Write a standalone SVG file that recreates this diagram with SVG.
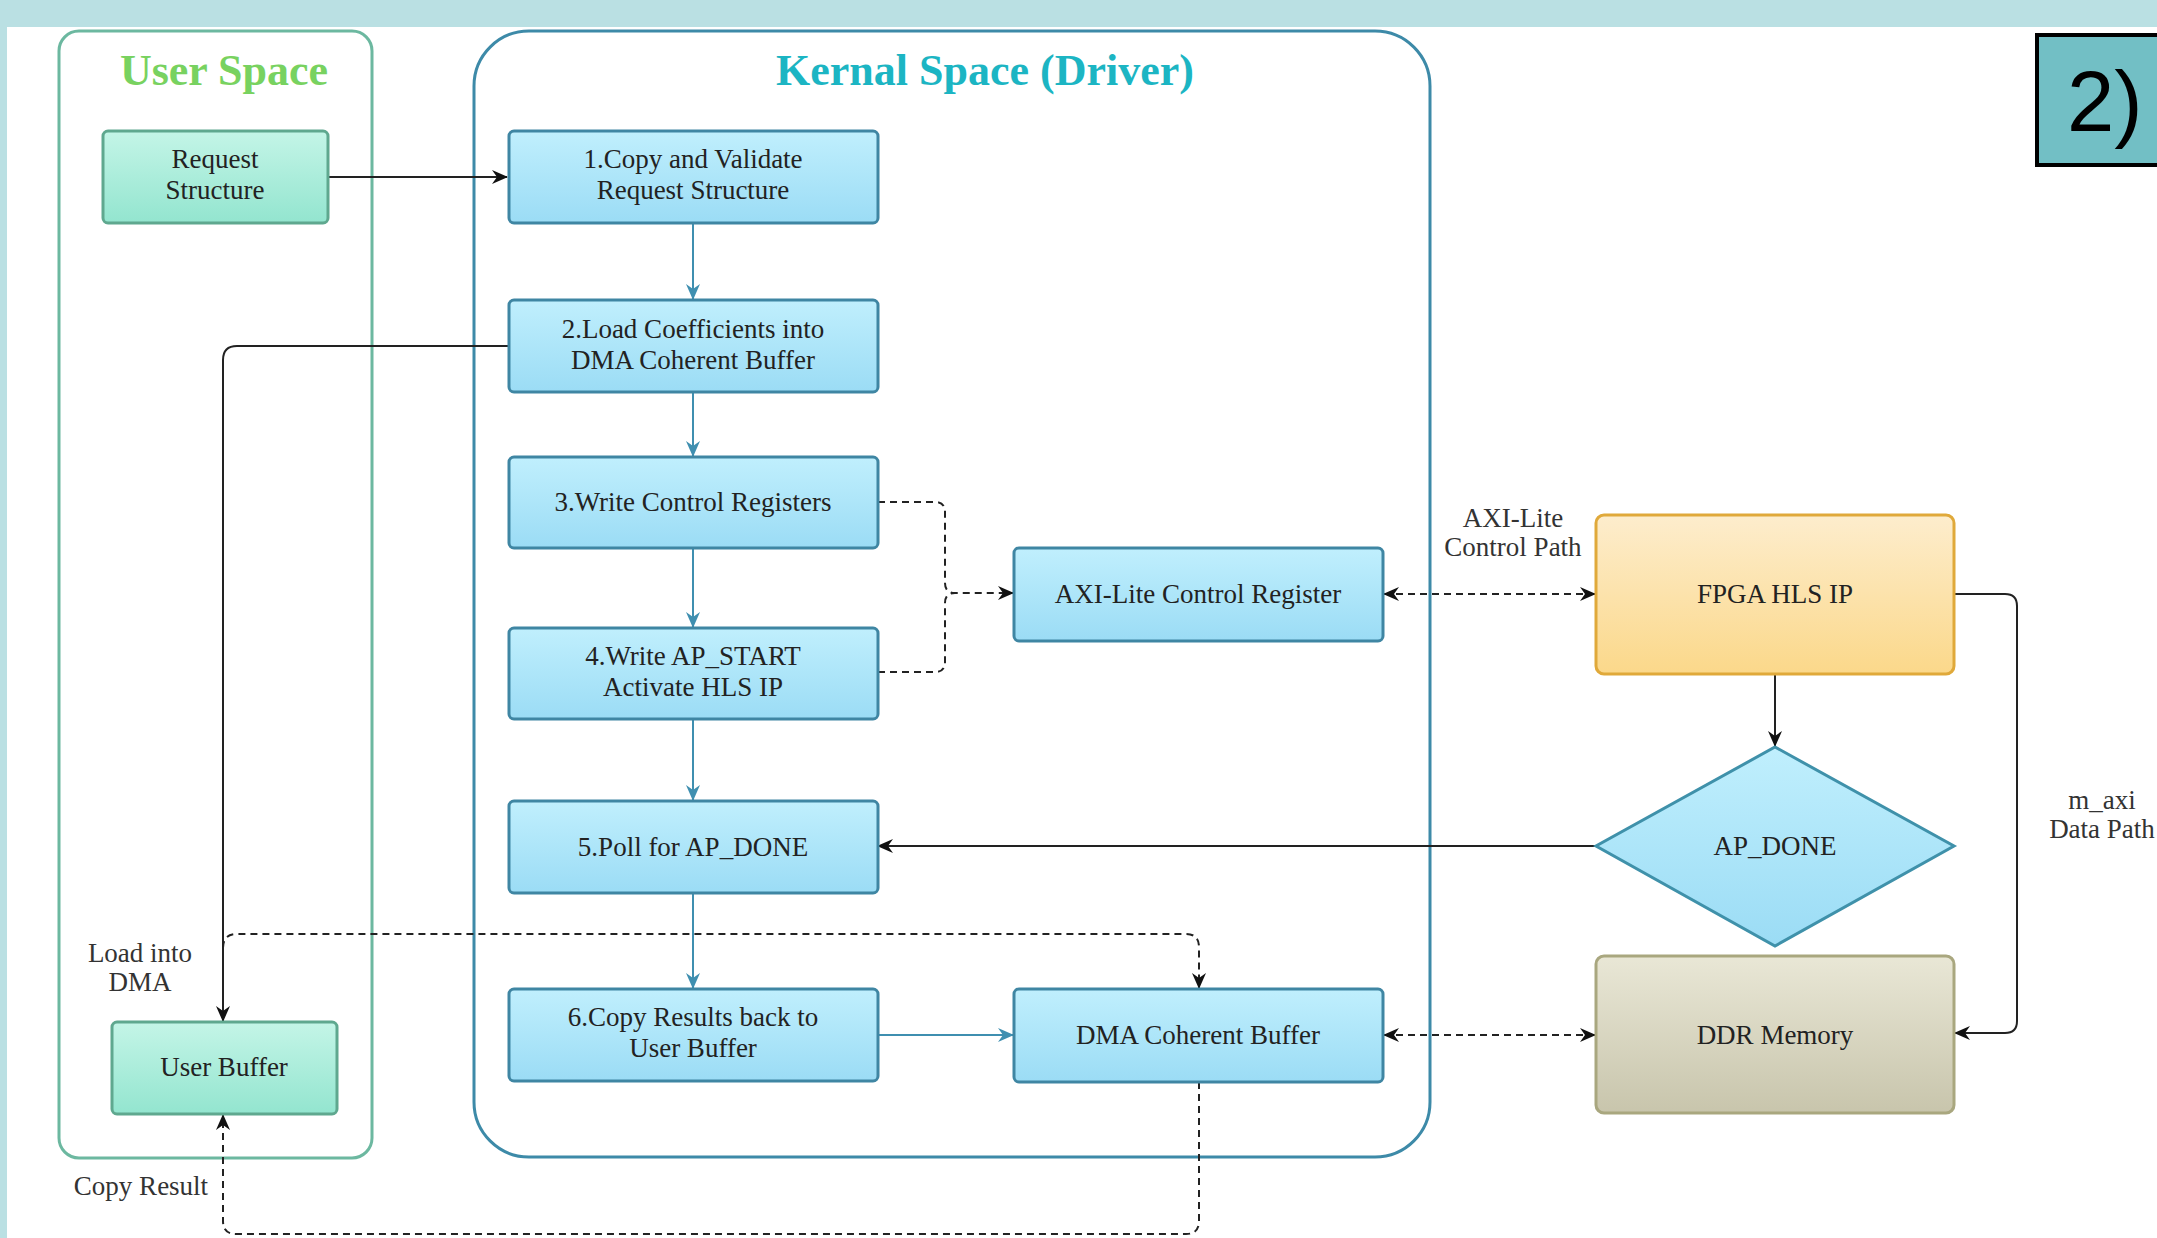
<svg xmlns="http://www.w3.org/2000/svg" width="2157" height="1238" viewBox="0 0 2157 1238">
<style>
.t{font-family:"Liberation Serif","Times New Roman",serif;font-size:27px;fill:#222;text-anchor:middle}
.lbl{font-family:"Liberation Serif","Times New Roman",serif;font-size:27px;fill:#333;text-anchor:middle}
.title{font-family:"Liberation Serif","Times New Roman",serif;font-size:44px;font-weight:bold;text-anchor:middle}
.blue{fill:url(#gBlue);stroke:#3f86a3;stroke-width:3}
.green{fill:url(#gGreen);stroke:#5fa88f;stroke-width:3}
.flow{fill:none;stroke:#3f8fb0;stroke-width:2}
.solid{fill:none;stroke:#222;stroke-width:2}
.dash{fill:none;stroke:#222;stroke-width:2;stroke-dasharray:7 5}
</style>
<defs>
<linearGradient id="gBlue" x1="0" y1="0" x2="0" y2="1"><stop offset="0" stop-color="#c0effd"/><stop offset="1" stop-color="#9bdcf5"/></linearGradient>
<linearGradient id="gGreen" x1="0" y1="0" x2="0" y2="1"><stop offset="0" stop-color="#c4f5e7"/><stop offset="1" stop-color="#93e5cf"/></linearGradient>
<linearGradient id="gOrange" x1="0" y1="0" x2="0" y2="1"><stop offset="0" stop-color="#fdedcd"/><stop offset="1" stop-color="#fbd88a"/></linearGradient>
<linearGradient id="gOlive" x1="0" y1="0" x2="0" y2="1"><stop offset="0" stop-color="#e9e7d6"/><stop offset="1" stop-color="#c8c5ac"/></linearGradient>
<marker id="aBlk" viewBox="0 0 16 14" refX="15" refY="7" markerWidth="16" markerHeight="14" markerUnits="userSpaceOnUse" orient="auto-start-reverse"><path d="M0,0 L16,7 L0,14 L5,7 z" fill="#111"/></marker>
<marker id="aBlu" viewBox="0 0 16 14" refX="15" refY="7" markerWidth="16" markerHeight="14" markerUnits="userSpaceOnUse" orient="auto-start-reverse"><path d="M0,0 L16,7 L0,14 L5,7 z" fill="#3f8fb0"/></marker>
</defs>
<rect x="0" y="0" width="2157" height="1238" fill="#ffffff"/>
<rect x="0" y="0" width="2157" height="27" fill="#bae0e3"/>
<rect x="0" y="0" width="7" height="1238" fill="#bae0e3"/>

<g id="user-space">
<rect x="59" y="31" width="313" height="1127" rx="20" fill="none" stroke="#6cb8a0" stroke-width="3"/>
<text class="title" x="224" y="85" fill="#78d260">User Space</text>
</g>
<g id="kernel-space">
<rect x="474" y="31" width="956" height="1126" rx="55" fill="none" stroke="#3d8aa8" stroke-width="3"/>
<text class="title" x="985" y="85" fill="#1cb5c3">Kernal Space (Driver)</text>
</g>

<g id="connectors">
<path class="solid" d="M328,177 H507" marker-end="url(#aBlk)"/>
<path class="flow" d="M693,223 V299" marker-end="url(#aBlu)"/>
<path class="flow" d="M693,392 V456" marker-end="url(#aBlu)"/>
<path class="flow" d="M693,548 V627" marker-end="url(#aBlu)"/>
<path class="flow" d="M693,719 V800" marker-end="url(#aBlu)"/>
<path class="flow" d="M693,893 V988" marker-end="url(#aBlu)"/>
<path class="flow" d="M878,1035 H1013" marker-end="url(#aBlu)"/>
<path class="solid" d="M509,346 H237 Q223,346 223,360 V1021" marker-end="url(#aBlk)"/>
<path class="dash" d="M878,502 H935 Q945,502 945,512 V583 Q945,593 955,593 H1013" marker-end="url(#aBlk)"/>
<path class="dash" d="M878,672 H935 Q945,672 945,662 V603 Q945,593 955,593"/>
<path class="dash" d="M1384,594 H1595" marker-start="url(#aBlk)" marker-end="url(#aBlk)"/>
<path class="dash" d="M1384,1035 H1595" marker-start="url(#aBlk)" marker-end="url(#aBlk)"/>
<path class="solid" d="M1775,674 V746" marker-end="url(#aBlk)"/>
<path class="solid" d="M1596,846 H878" marker-end="url(#aBlk)"/>
<path class="solid" d="M1954,594 H2005 Q2017,594 2017,606 V1021 Q2017,1033 2005,1033 H1955" marker-end="url(#aBlk)" stroke="#333"/>
<path class="dash" d="M223,948 Q223,934 237,934 H1186 Q1199,934 1199,947 V988" marker-end="url(#aBlk)"/>
<path class="dash" d="M1199,1082 V1221 Q1199,1234 1186,1234 H236 Q223,1234 223,1221 V1115" marker-end="url(#aBlk)"/>
</g>

<g id="request-structure">
<rect class="green" x="103" y="131" width="225" height="92" rx="5"/>
<text class="t" x="215" y="168">Request</text>
<text class="t" x="215" y="199">Structure</text>
</g>
<g id="user-buffer">
<rect class="green" x="112" y="1022" width="225" height="92" rx="5"/>
<text class="t" x="224" y="1076">User Buffer</text>
</g>
<g id="step1">
<rect class="blue" x="509" y="131" width="369" height="92" rx="5"/>
<text class="t" x="693" y="168">1.Copy and Validate</text>
<text class="t" x="693" y="199">Request Structure</text>
</g>
<g id="step2">
<rect class="blue" x="509" y="300" width="369" height="92" rx="5"/>
<text class="t" x="693" y="338">2.Load Coefficients into</text>
<text class="t" x="693" y="369">DMA Coherent Buffer</text>
</g>
<g id="step3">
<rect class="blue" x="509" y="457" width="369" height="91" rx="5"/>
<text class="t" x="693" y="511">3.Write Control Registers</text>
</g>
<g id="step4">
<rect class="blue" x="509" y="628" width="369" height="91" rx="5"/>
<text class="t" x="693" y="665">4.Write AP_START</text>
<text class="t" x="693" y="696">Activate HLS IP</text>
</g>
<g id="step5">
<rect class="blue" x="509" y="801" width="369" height="92" rx="5"/>
<text class="t" x="693" y="856">5.Poll for AP_DONE</text>
</g>
<g id="step6">
<rect class="blue" x="509" y="989" width="369" height="92" rx="5"/>
<text class="t" x="693" y="1026">6.Copy Results back to</text>
<text class="t" x="693" y="1057">User Buffer</text>
</g>
<g id="axi-lite-register">
<rect class="blue" x="1014" y="548" width="369" height="93" rx="5"/>
<text class="t" x="1198" y="603">AXI-Lite Control Register</text>
</g>
<g id="dma-coherent-buffer">
<rect class="blue" x="1014" y="989" width="369" height="93" rx="5"/>
<text class="t" x="1198" y="1044">DMA Coherent Buffer</text>
</g>
<g id="fpga-hls-ip">
<rect x="1596" y="515" width="358" height="159" rx="8" fill="url(#gOrange)" stroke="#e0a93a" stroke-width="3"/>
<text class="t" x="1775" y="603">FPGA HLS IP</text>
</g>
<g id="ap-done">
<path d="M1775,747 L1954,846 L1775,946 L1596,846 Z" fill="url(#gBlue)" stroke="#3f91aa" stroke-width="3"/>
<text class="t" x="1775" y="855">AP_DONE</text>
</g>
<g id="ddr-memory">
<rect x="1596" y="956" width="358" height="157" rx="8" fill="url(#gOlive)" stroke="#a9a77f" stroke-width="3"/>
<text class="t" x="1775" y="1044">DDR Memory</text>
</g>

<g id="labels">
<text class="lbl" x="1513" y="527">AXI-Lite</text>
<text class="lbl" x="1513" y="556">Control Path</text>
<text class="lbl" x="2102" y="809">m_axi</text>
<text class="lbl" x="2102" y="838">Data Path</text>
<text class="lbl" x="140" y="962">Load into</text>
<text class="lbl" x="140" y="991">DMA</text>
<text class="lbl" x="141" y="1195">Copy Result</text>
</g>

<g id="badge">
<rect x="2037" y="35" width="140" height="130" fill="#72bfc5" stroke="#000" stroke-width="4"/>
<text x="2067" y="131" font-family="'Liberation Sans',Arial,sans-serif" font-size="85" fill="#000">2)</text>
</g>
</svg>
